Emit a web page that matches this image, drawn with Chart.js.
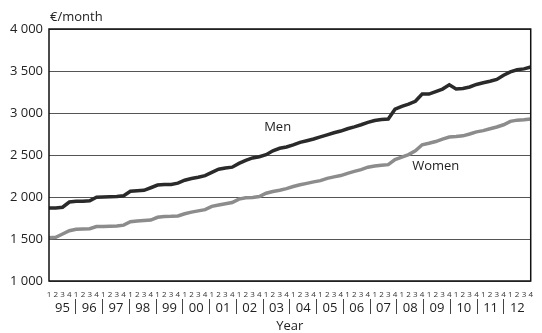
<!DOCTYPE html>
<html>
<head>
<meta charset="utf-8">
<script src="https://cdn.jsdelivr.net/npm/chart.js@4"></script>
<style>
  html, body { margin: 0; padding: 0; background: #fff; }
  canvas { display: block; }
</style>
</head>
<body>
<canvas id="c" width="542" height="333"></canvas>
<script>
// ---- data (quarterly, 1995 Q1 – 2012 Q4), €/month ----
const years = ['95','96','97','98','99','00','01','02','03','04','05','06','07','08','09','10','11','12'];
const quarters = ['1','2','3','4'];
const men = [
  1870,1870,1878,1940, 1948,1950,1955,1998, 2000,2002,2005,2015, 2068,2075,2080,2110,
  2142,2148,2150,2165, 2200,2220,2235,2255, 2293,2330,2345,2355, 2400,2436,2465,2480,
  2503,2550,2580,2595, 2620,2650,2670,2690, 2715,2740,2765,2785, 2812,2835,2860,2888,
  2910,2922,2928,3045, 3080,3105,3140,3225, 3225,3255,3285,3335, 3285,3292,3310,3340,
  3360,3378,3400,3450, 3490,3515,3525,3548
];
const women = [
  1515,1520,1560,1598, 1615,1618,1622,1648, 1650,1652,1655,1665, 1705,1715,1720,1725,
  1758,1768,1770,1775, 1800,1820,1835,1850, 1888,1905,1920,1935, 1975,1990,1995,2005,
  2045,2065,2080,2100, 2125,2145,2162,2180, 2195,2222,2240,2255, 2282,2305,2325,2355,
  2368,2378,2385,2445, 2475,2505,2550,2622, 2640,2660,2690,2714, 2720,2728,2750,2775,
  2790,2812,2833,2860, 2900,2915,2920,2928
];
const yTicks = [1000, 1500, 2000, 2500, 3000, 3500, 4000];
const seriesNames = ['Men', 'Women'];
const unitLabel = '€/month';
const axisTitle = 'Year';

// category labels: one per quarter
const quarterLabels = [];
years.forEach(() => quarters.forEach(q => quarterLabels.push(q)));

const FONT = "'Open Sans', 'DejaVu Sans', sans-serif";

const annotate = {
  id: 'annotate',
  afterDatasetsDraw(chart) {
    const {ctx, chartArea: a, scales: {x, y}} = chart;
    ctx.save();
    // frame
    ctx.strokeStyle = '#111';
    ctx.lineWidth = 1.5;
    ctx.strokeRect(a.left, a.top, a.right - a.left, a.bottom - a.top);
    // series labels
    ctx.fillStyle = '#222';
    ctx.font = "13px " + FONT;
    ctx.textAlign = 'center';
    ctx.textBaseline = 'middle';
    ctx.fillText(seriesNames[0], x.getPixelForValue(33.7), y.getPixelForValue(2825));
    ctx.fillText(seriesNames[1], x.getPixelForValue(57), y.getPixelForValue(2361));
    // unit label
    ctx.textAlign = 'left';
    ctx.fillText(unitLabel, a.left + 1, 17);
    ctx.restore();
  }
};

new Chart(document.getElementById('c'), {
  type: 'line',
  data: {
    labels: quarterLabels,
    datasets: [
      { label: seriesNames[0], data: men, borderColor: '#2a2a2a', borderWidth: 3.5,
        pointRadius: 0, tension: 0, fill: false },
      { label: seriesNames[1], data: women, borderColor: '#8c8c8c', borderWidth: 3.5,
        pointRadius: 0, tension: 0, fill: false }
    ]
  },
  options: {
    responsive: false,
    animation: false,
    layout: { padding: { left: 0, right: 8, top: 29, bottom: 0 } },
    plugins: { legend: { display: false }, tooltip: { enabled: false }, title: { display: false } },
    scales: {
      x: {
        type: 'category',
        position: 'bottom',
        weight: 0,
        offset: false,
        grid: { display: false, drawTicks: false },
        border: { display: false },
        ticks: {
          autoSkip: false, maxRotation: 0, minRotation: 0, padding: 9,
          color: '#333', font: { family: FONT, size: 8 }
        },
        afterFit(s) { s.height = 18; }
      },
      x2: {
        type: 'category',
        position: 'bottom',
        weight: 1,
        labels: years,
        offset: true,
        grid: {
          display: true, drawOnChartArea: false, drawTicks: true, tickLength: 15, offset: true,
          lineWidth: 1,
          color: (c) => (c.type === 'tick' && c.index > 0) ? '#444' : 'rgba(0,0,0,0)'
        },
        border: { display: false },
        ticks: {
          autoSkip: false, maxRotation: 0, minRotation: 0, padding: -13.3,
          color: '#222', font: { family: FONT, size: 13 }
        },
        title: {
          display: true, text: axisTitle, color: '#222',
          font: { family: FONT, size: 13, lineHeight: 1.1 },
          padding: { top: 0, bottom: 0 }
        },
        afterFit(s) { s.height = 34; }
      },
      y: {
        type: 'linear',
        position: 'left',
        min: 1000, max: 4000,
        afterBuildTicks(s) { s.ticks = yTicks.map(v => ({ value: v })); },
        grid: { color: '#555', lineWidth: 1, drawTicks: false },
        border: { display: false },
        ticks: {
          padding: 6, color: '#222', font: { family: FONT, size: 13 },
          callback: (v) => String(v).replace(/\B(?=(\d{3})+(?!\d))/g, ' ')
        },
        afterFit(s) { s.width = 49; }
      }
    }
  },
  plugins: [annotate]
});
</script>
</body>
</html>
